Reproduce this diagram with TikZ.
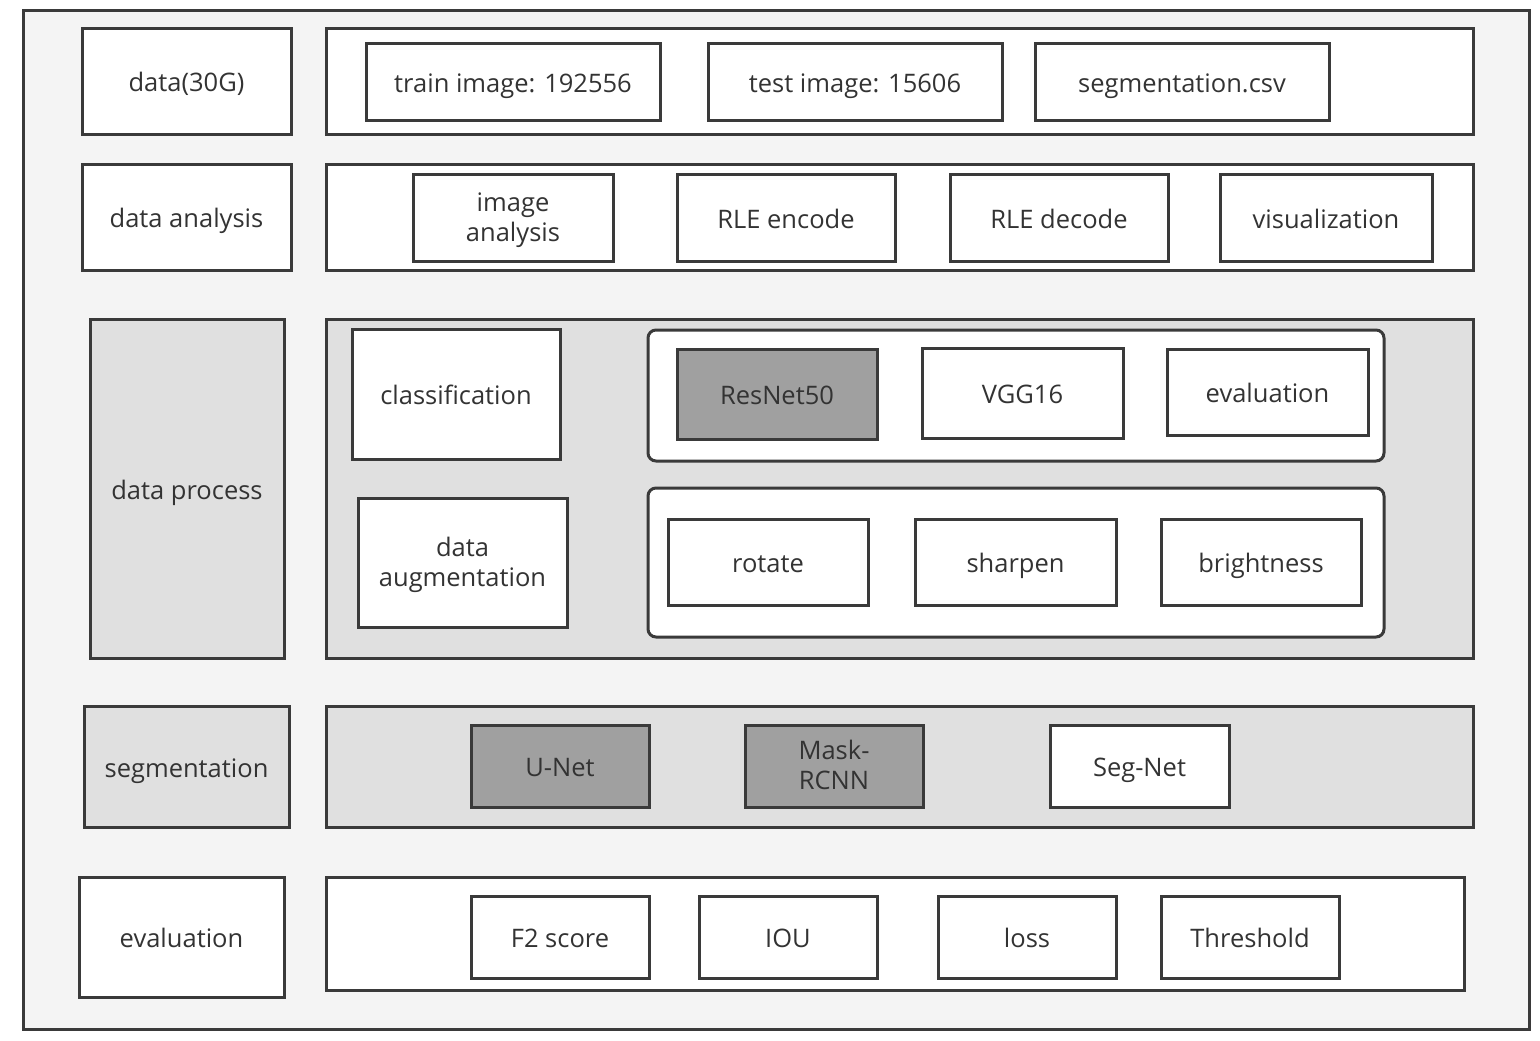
\documentclass[tikz,border=0pt]{standalone}
\usepackage{fontspec}
\setmainfont{Open Sans}
\definecolor{ln}{HTML}{3A3A3A}
\definecolor{tx}{HTML}{333333}
\definecolor{bg}{HTML}{F4F4F4}
\definecolor{lg}{HTML}{E0E0E0}
\definecolor{dg}{HTML}{A0A0A0}
\newcommand\topstrut{\rule{0pt}{24pt}}
\tikzset{
  bx/.style={draw=ln, line width=3pt, fill=white, text=tx, inner sep=0pt, align=center,
    font=\fontsize{25.5}{30}\selectfont,
    execute at begin node={\rule{0pt}{28pt}},
    execute at end node={\rule[-7pt]{0pt}{7pt}}},
  light/.style={bx, fill=lg},
  dark/.style={bx, fill=dg},
  rnd/.style={bx, rounded corners=8pt},
}
\newcommand\bx[7][bx]{\node[#1, minimum width={#4-#2}, minimum height={#5-#3}] (#6) at ({(#2+#4)/2},{(#3+#5)/2}) {#7};}
\begin{document}
\begin{tikzpicture}[x=1pt,y=-1pt]
\useasboundingbox (0,0) rectangle (1540,1041);
\fill[white] (0,0) rectangle (1540,1041);
\bx{25}{12}{1528}{1028}{outer}{}
\path[fill=bg] (outer.south west) rectangle (outer.north east);
\draw[ln, line width=3pt] (outer.south west) rectangle (outer.north east);
% row 1
\bx{82}{29}{291}{134}{data}{data(30G)}
\bx{326}{29}{1473}{134}{c1}{}
\bx{366}{44}{660}{120}{train}{train image: 192556}
\bx{708}{44}{1002}{120}{test}{test image: 15606}
\bx{1035}{44}{1329}{120}{csv}{segmentation.csv}
% row 2
\bx{82}{164}{291}{270}{ana}{data analysis}
\bx{326}{164}{1473}{270}{c2}{}
\bx{413}{174}{613}{261}{img}{\topstrut image\\analysis}
\bx{677}{174}{895}{261}{enc}{RLE encode}
\bx{950}{174}{1168}{261}{dec}{RLE decode}
\bx{1220}{174}{1432}{261}{vis}{visualization}
% row 3
\bx[light]{90}{319}{284}{658}{proc}{data process}
\bx[light]{326}{319}{1473}{658}{c3}{}
\bx{352}{329}{560}{459}{cls}{classification}
\bx{358}{498}{567}{627}{aug}{\topstrut data\\augmentation}
\bx[rnd]{648}{330}{1384}{461}{r1}{}
\bx[dark]{677}{349}{877}{439}{res}{ResNet50}
\bx{922}{348}{1123}{438}{vgg}{VGG16}
\bx{1167}{349}{1368}{435}{ev1}{evaluation}
\bx[rnd]{648}{488}{1384}{637}{r2}{}
\bx{668}{519}{868}{605}{rot}{rotate}
\bx{915}{519}{1116}{605}{sha}{sharpen}
\bx{1161}{519}{1361}{605}{bri}{brightness}
% row 4
\bx[light]{84}{706}{289}{827}{seg}{segmentation}
\bx[light]{326}{706}{1473}{827}{c4}{}
\bx[dark]{471}{725}{649}{807}{unet}{U-Net}
\bx[dark]{745}{725}{923}{807}{mask}{\topstrut Mask-\\RCNN}
\bx{1050}{725}{1229}{807}{segnet}{Seg-Net}
% row 5
\bx{79}{877}{284}{997}{eval}{evaluation}
\bx{326}{877}{1464}{990}{c5}{}
\bx{471}{896}{649}{978}{f2}{F2 score}
\bx{699}{896}{877}{978}{iou}{IOU}
\bx{938}{896}{1116}{978}{loss}{loss}
\bx{1161}{896}{1339}{978}{thr}{Threshold}
\end{tikzpicture}
\end{document}
